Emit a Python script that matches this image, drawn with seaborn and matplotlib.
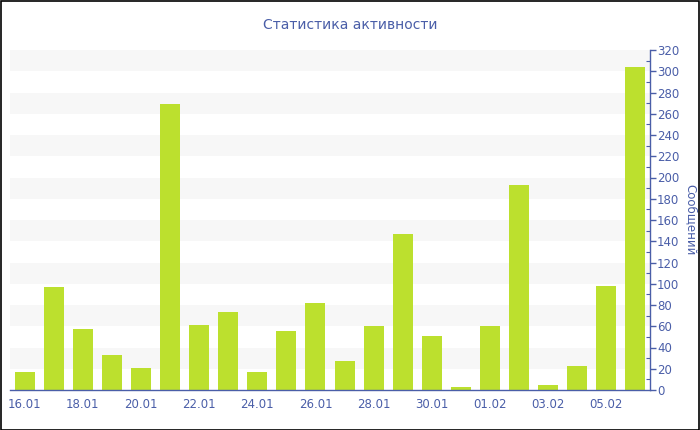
import matplotlib
matplotlib.use('Agg')
import matplotlib.pyplot as plt
import seaborn as sns
import pandas as pd
import numpy as np
from matplotlib.ticker import MultipleLocator

# данные
dates = ['16.01', '17.01', '18.01', '19.01', '20.01', '21.01', '22.01', '23.01',
         '24.01', '25.01', '26.01', '27.01', '28.01', '29.01', '30.01', '31.01',
         '01.02', '02.02', '03.02', '04.02', '05.02', '06.02']
messages = [17, 97, 57, 33, 21, 269, 61, 73, 17, 56, 82, 27, 60, 147, 51, 3,
            60, 193, 5, 23, 98, 304]

title = 'Статистика активности'
ylabel = 'Сообщений'

bar_color = '#bce02e'
text_color = '#4a5ea8'

sns.set_style('white')
plt.rcParams['font.family'] = ['DejaVu Sans']

df = pd.DataFrame({'date': dates, 'count': messages})

fig = plt.figure(figsize=(7, 4.3), dpi=100)
ax = fig.add_axes([10 / 700, 40 / 430, 640 / 700, 340 / 430])

# полосы на фоне
for lo in range(20, 320, 40):
    ax.axhspan(lo, lo + 20, color='#f7f7f7', zorder=0, lw=0)

sns.barplot(data=df, x='date', y='count', color=bar_color, width=0.69,
            saturation=1, ax=ax, zorder=2, linewidth=0)

ax.set_xlim(-0.5, len(dates) - 0.5)
ax.set_ylim(0, 320)

ax.yaxis.tick_right()
ax.yaxis.set_label_position('right')
ax.yaxis.set_major_locator(MultipleLocator(20))
ax.yaxis.set_minor_locator(MultipleLocator(10))
ax.tick_params(axis='y', which='major', direction='out', length=4, width=1,
               color=text_color, labelcolor=text_color, labelsize=8.5, pad=1)
ax.tick_params(axis='y', which='minor', direction='in', length=3, width=0.8,
               color=text_color)
ax.set_ylabel(ylabel, color=text_color, fontsize=8.5, rotation=270, labelpad=13)

ticks = list(range(0, len(dates), 2))
ax.set_xticks(ticks)
ax.set_xticklabels([dates[i] for i in ticks])
ax.tick_params(axis='x', direction='out', length=4, width=1, color=text_color,
               labelcolor=text_color, labelsize=8.5, pad=2)
ax.set_xlabel('')

for s in ['top', 'left']:
    ax.spines[s].set_visible(False)
ax.spines['bottom'].set_color(text_color)
ax.spines['right'].set_color(text_color)
ax.spines['bottom'].set_linewidth(1)
ax.spines['right'].set_linewidth(1)

fig.text(0.5, 1 - 25 / 430, title, ha='center', va='center', fontsize=10,
         color=text_color)

# рамка вокруг картинки
fig.patches.append(plt.Rectangle((0.001, 0.001), 0.998, 0.997, transform=fig.transFigure,
                                 fill=False, edgecolor='black', lw=1.2))

fig.savefig('out.png', dpi=100)
